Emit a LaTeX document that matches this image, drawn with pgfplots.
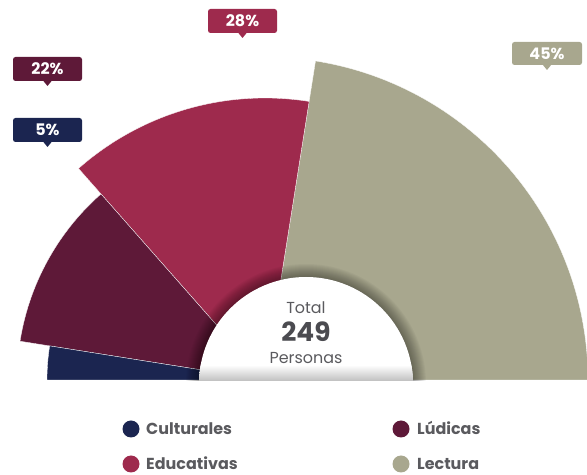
\documentclass[border=0pt]{standalone}
\usepackage{pgfplots}
\pgfplotsset{compat=1.18}
\usepackage{fontspec}
\setmainfont{Poppins}
\definecolor{cult}{HTML}{1B2550}
\definecolor{lud}{HTML}{5E1938}
\definecolor{edu}{HTML}{9E2A4D}
\definecolor{lec}{HTML}{A8A78E}
\definecolor{txt}{HTML}{5A5A5E}
\definecolor{txtd}{HTML}{4B4B50}

% callout: left right top bottom (image px) colour text
\newcommand{\callout}[6]{%
  \fill[#5, rounded corners=2.5] (#1,{475-#3}) rectangle (#2,{475-#4});
  \fill[#5] ({(#1+#2)/2-4.5},{475-#4+0.5}) -- ({(#1+#2)/2},{475-#4-5}) -- ({(#1+#2)/2+4.5},{475-#4+0.5}) -- cycle;
  \node[white, inner sep=0, font=\bfseries\fontsize{16}{16}\selectfont] at ({(#1+#2)/2},{475-(#3+#4)/2}) {#6};
}

\begin{document}
\begin{tikzpicture}[x=1bp,y=1bp]
\useasboundingbox (0,0) rectangle (587,475);
\begin{axis}[
  at={(0,0)}, anchor=south west,
  x=1bp, y=1bp, scale only axis,
  xmin=-265, xmax=322, ymin=-95, ymax=380,
  hide axis, clip=true,
]
% share -> angle span: Culturales 5% (171-180), Ludicas 22% (131.4-171),
% Educativas 28% (81-131.4), Lectura 45% (0-81); radius by rank
\addplot[fill=lec, draw=white, line width=0.3bp, domain=0:81, samples=80]
  ({323*cos(x)},{323*sin(x)}) -- (axis cs:0,0) -- cycle;
\addplot[fill=edu, draw=white, line width=0.3bp, domain=81:131.4, samples=60]
  ({282*cos(x)},{282*sin(x)}) -- (axis cs:0,0) -- cycle;
\addplot[fill=lud, draw=white, line width=0.3bp, domain=131.4:171, samples=50]
  ({248*cos(x)},{248*sin(x)}) -- (axis cs:0,0) -- cycle;
\addplot[fill=cult, draw=white, line width=0.3bp, domain=171:180, samples=20]
  ({218*cos(x)},{218*sin(x)}) -- (axis cs:0,0) -- cycle;
\end{axis}

% centre disc with shadow
\begin{scope}
  \clip (150,94) rectangle (480,320);
  \foreach \i in {1,...,13} {\fill[black, opacity=0.032] (306,91) circle ({107+\i});}
  \fill[white] (306,91) circle (107);
  \begin{scope}
    \clip (306,91) circle (107);
    \shade[top color=white, bottom color=black!25] (190,94) rectangle (420,110);
  \end{scope}
\end{scope}

\node[anchor=base, inner sep=0, txt, font=\fontsize{16}{16}\selectfont] at (306,161) {Total};
\node[anchor=base, inner sep=0, txtd, font=\bfseries\fontsize{26.5}{26.5}\selectfont] at (306,133) {249};
\node[anchor=base, inner sep=0, txt, font=\fontsize{16}{16}\selectfont] at (306,111) {Personas};

% callouts
\callout{208}{277}{9}{33}{edu}{28\%}
\callout{13}{82}{57}{81}{lud}{22\%}
\callout{13}{82}{118}{142}{cult}{5\%}
\callout{512}{582}{42}{65}{lec}{45\%}

% legend
\fill[cult] (131,46) circle (8.5);
\node[anchor=base west, inner sep=0, txt, font=\bfseries\fontsize{16}{16}\selectfont] at (146,40) {Culturales};
\fill[lud] (401,46) circle (8.5);
\node[anchor=base west, inner sep=0, txt, font=\bfseries\fontsize{16}{16}\selectfont] at (417,40) {Lúdicas};
\fill[edu] (131,11) circle (8.5);
\node[anchor=base west, inner sep=0, txt, font=\bfseries\fontsize{16}{16}\selectfont] at (146,5) {Educativas};
\fill[lec] (401,11) circle (8.5);
\node[anchor=base west, inner sep=0, txt, font=\bfseries\fontsize{16}{16}\selectfont] at (417,5) {Lectura};
\end{tikzpicture}
\end{document}
